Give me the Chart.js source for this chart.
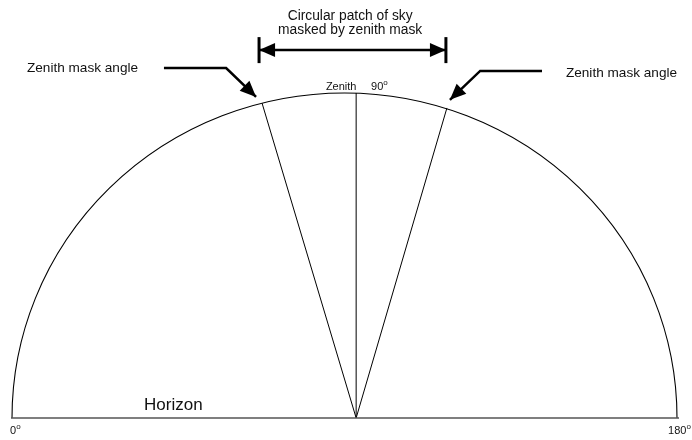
<!DOCTYPE html>
<html>
<head>
<meta charset="utf-8">
<script src="https://cdn.jsdelivr.net/npm/chart.js@4.4.1/dist/chart.umd.min.js"></script>
<style>
  html, body { margin: 0; padding: 0; background: #fff; }
  #wrap { width: 692px; height: 440px; }
</style>
</head>
<body>
<div id="wrap"><canvas id="chart-dome" width="692" height="440"></canvas></div>
<script>
'use strict';

/* ── Data (dome units: horizon centre = 0, dome radius = 1) ───── */
const horizonX = [-1.003, 1.006];
const domeCentre = [0, 0];
const domeRadius = [1, 1];
const apexX = 0.035;
const rayTopX = [-0.248, 0.035, 0.308];
const rayTopY = [0.969, 1.0, 0.954];

const pointerLeftX = [-0.543, -0.356, -0.266];
const pointerLeftY = [1.077, 1.077, 0.988];
const pointerRightX = [0.594, 0.408, 0.317];
const pointerRightY = [1.068, 1.068, 0.979];

const spanX = [-0.257, 0.305];
const spanY = 1.132;
const spanBarY = [1.092, 1.172];

const labelText = ['Circular patch of sky', 'masked by zenith mask', 'Zenith mask angle', 'Zenith mask angle', 'Zenith', 'Horizon'];
const labelX = [0.017, 0.017, -0.955, 0.666, -0.056, -0.603];
const labelY = [1.225, 1.182, 1.065, 1.049, 1.009, 0.025];
const degreeText = ['0', '90', '180'];
const degreeX = [-1.006, 0.080, 0.973];
const degreeY = [-0.049, 1.009, -0.049];

/* ── Helpers ─────────────────────────────────────────────────── */
const pts = (xs, ys) => xs.map((x, i) => ({ x, y: ys[i] }));
const line = (data, width, color, arrow) => ({
    data, showLine: true, borderColor: color || '#000', borderWidth: width,
    pointRadius: 0, fill: false, tension: 0, arrow: arrow || null
});

const datasets = [
    line(pts(horizonX, [0, 0]), 1.5, '#555'),
    ...rayTopX.map((x, i) => line([{ x: apexX, y: 0 }, { x, y: rayTopY[i] }], 1)),
    line(pts(pointerLeftX, pointerLeftY), 2.5, '#000', 'end'),
    line(pts(pointerRightX, pointerRightY), 2.5, '#000', 'end'),
    line(pts(spanX, [spanY, spanY]), 2.5, '#000', 'both'),
    ...spanX.map(x => line([{ x, y: spanBarY[0] }, { x, y: spanBarY[1] }], 3)),
];

/* ── Plugin: dome arc ────────────────────────────────────────── */
const domePlugin = {
    id: 'dome',
    beforeDatasetsDraw(chart) {
        const { ctx, scales: { x, y } } = chart;
        const cx = x.getPixelForValue(domeCentre[0]);
        const cy = y.getPixelForValue(domeCentre[1]);
        const rx = x.getPixelForValue(domeRadius[0]) - cx;
        const ry = cy - y.getPixelForValue(domeRadius[1]);
        ctx.save();
        ctx.beginPath();
        ctx.ellipse(cx, cy, rx, ry, 0, Math.PI, 2 * Math.PI);
        ctx.strokeStyle = '#000';
        ctx.lineWidth = 1.1;
        ctx.stroke();
        ctx.restore();
    }
};

/* ── Plugin: arrowheads ──────────────────────────────────────── */
function head(ctx, from, to, len, half) {
    const a = Math.atan2(to.y - from.y, to.x - from.x);
    ctx.beginPath();
    ctx.moveTo(to.x, to.y);
    ctx.lineTo(to.x - len * Math.cos(a) + half * Math.sin(a), to.y - len * Math.sin(a) - half * Math.cos(a));
    ctx.lineTo(to.x - len * Math.cos(a) - half * Math.sin(a), to.y - len * Math.sin(a) + half * Math.cos(a));
    ctx.closePath();
    ctx.fill();
}
const arrowPlugin = {
    id: 'arrows',
    afterDatasetsDraw(chart) {
        const ctx = chart.ctx;
        ctx.save();
        ctx.fillStyle = '#000';
        chart.data.datasets.forEach((ds, i) => {
            if (!ds.arrow) return;
            const p = chart.getDatasetMeta(i).data;
            const n = p.length;
            head(ctx, p[n - 2], p[n - 1], 16, 7);
            if (ds.arrow === 'both') head(ctx, p[1], p[0], 16, 7);
        });
        ctx.restore();
    }
};

/* ── Plugin: text labels ─────────────────────────────────────── */
const FONT = '"Liberation Sans", Arial, sans-serif';
const labelSize = [13.8, 13.8, 13.6, 13.6, 11, 17];
const labelAlign = ['center', 'center', 'left', 'left', 'left', 'left'];
const textPlugin = {
    id: 'labels',
    afterDraw(chart) {
        const { ctx, scales: { x, y } } = chart;
        ctx.save();
        ctx.fillStyle = '#111';
        ctx.textBaseline = 'alphabetic';
        labelText.forEach((t, i) => {
            ctx.font = `${labelSize[i]}px ${FONT}`;
            ctx.textAlign = labelAlign[i];
            ctx.fillText(t, x.getPixelForValue(labelX[i]), y.getPixelForValue(labelY[i]));
        });
        ctx.textAlign = 'left';
        degreeText.forEach((t, i) => {
            const px = x.getPixelForValue(degreeX[i]);
            const py = y.getPixelForValue(degreeY[i]);
            ctx.font = `11px ${FONT}`;
            ctx.fillText(t, px, py);
            const w = ctx.measureText(t).width;
            ctx.font = `8px ${FONT}`;
            ctx.fillText('o', px + w, py - 5);
        });
        ctx.restore();
    }
};

/* ── Chart ───────────────────────────────────────────────────── */
new Chart(document.getElementById('chart-dome'), {
    type: 'scatter',
    data: { datasets },
    options: {
        responsive: false,
        animation: false,
        layout: { padding: 0 },
        scales: {
            x: { type: 'linear', display: false, min: -1.0361, max: 1.0451 },
            y: { type: 'linear', display: false, min: -0.0677, max: 1.2862 }
        },
        plugins: { legend: { display: false }, tooltip: { enabled: false } }
    },
    plugins: [domePlugin, arrowPlugin, textPlugin]
});
</script>
</body>
</html>
